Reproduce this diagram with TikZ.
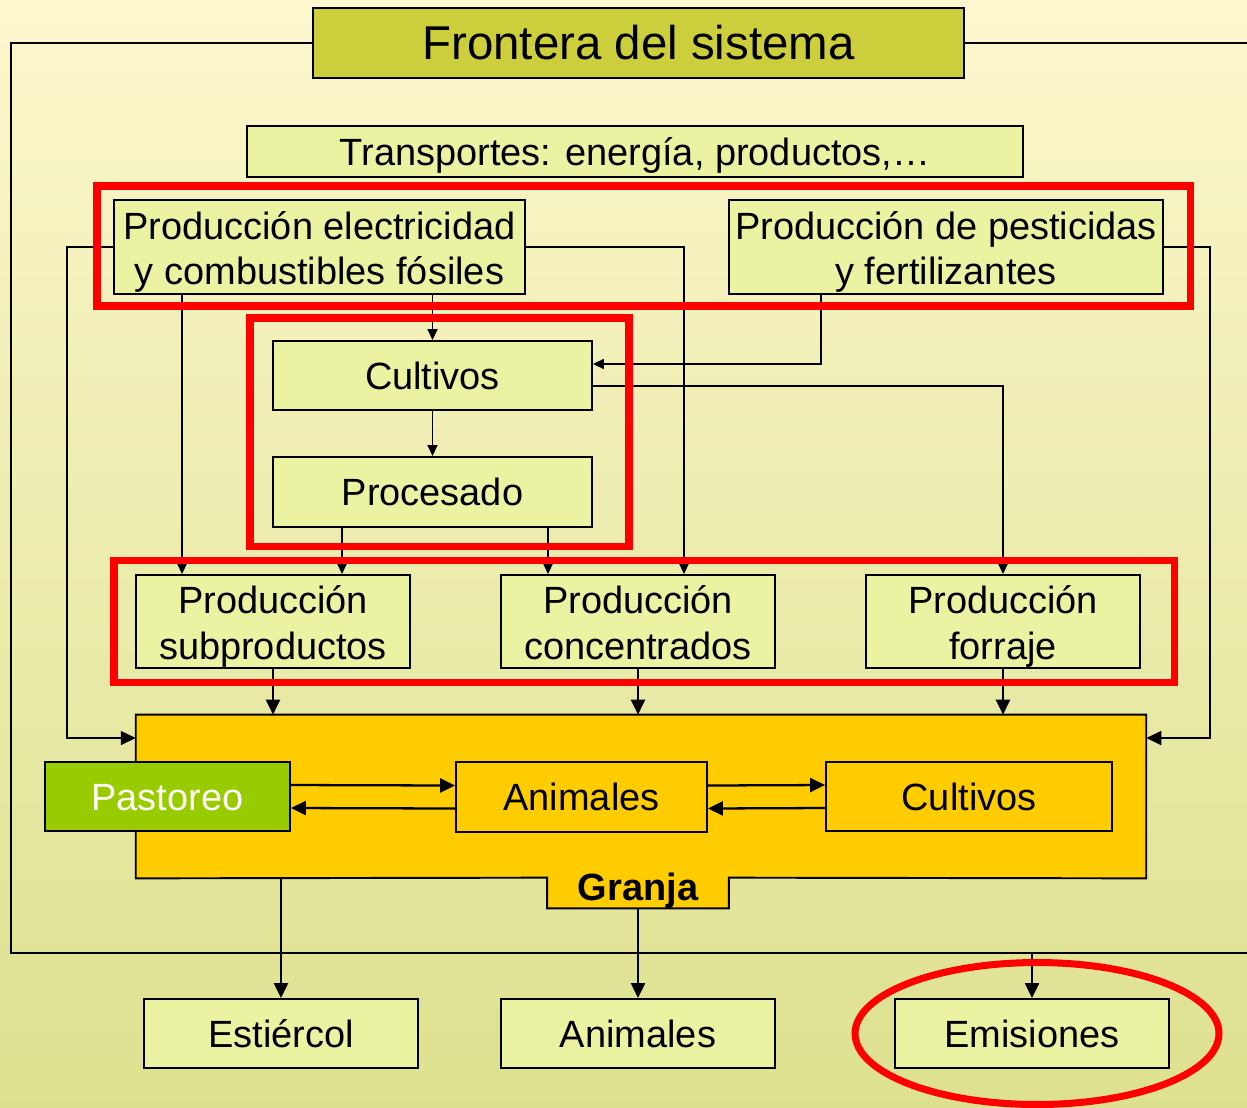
\documentclass[tikz,border=0pt]{standalone}
\usepackage{fontspec}
\setmainfont{Liberation Sans}
\usepackage{tikz}
\usetikzlibrary{arrows.meta}
\usepackage{xcolor}
\definecolor{fondoarriba}{RGB}{252,247,205}
\definecolor{fondoabajo}{RGB}{221,225,143}
\definecolor{verdeclaro}{RGB}{235,242,162}
\definecolor{oliva}{RGB}{204,206,60}
\definecolor{amarillo}{RGB}{255,204,0}
\definecolor{pasto}{RGB}{153,204,0}
\newcommand{\doslineas}[2]{\rule{0pt}{17pt}\smash{#1}\\\smash{#2}}

\begin{document}
\begin{tikzpicture}[x=0.02cm,y=-0.02cm]
		
		\tikzset{box/.style = {shape=rectangle,draw,fill=verdeclaro,line width=1.1pt,inner sep=0pt,align=center,font=\fontsize{21.6}{26}\selectfont}}
		\tikzset{uno/.style = {box,text height=15.5pt,text depth=0pt}}
		\tikzset{flecha/.style = {->,> = {Triangle[length=0.22cm,width=0.2cm]},line width=0.9pt}}
		\tikzset{flechag/.style = {->,> = {Triangle[length=0.3cm,width=0.28cm]},line width=1.3pt}}
		\tikzset{marco/.style = {draw=red,line width=4pt}}
		\shade[top color=fondoarriba,bottom color=fondoabajo] (0,0) rectangle (1247,1107);
		\useasboundingbox (0,0) rectangle (1247,1107);
		%nodes
		\node[uno,fill=oliva,minimum width=13.02cm,minimum height=1.4cm,font=\fontsize{27}{32}\selectfont,text height=19.3pt] (frontera) at (638.5,43) {Frontera del sistema};
		\node[uno,minimum width=15.52cm,minimum height=1.02cm] (transp) at (635,151.5) {Transportes: energía, productos,…};
		\node[box,minimum width=8.22cm,minimum height=1.88cm] (elec) at (319.5,247) {\doslineas{Producción electricidad}{y combustibles fósiles}};
		\node[box,minimum width=8.68cm,minimum height=1.88cm] (pest) at (946,247) {\doslineas{Producción de pesticidas}{y fertilizantes}};
		\node[uno,minimum width=6.38cm,minimum height=1.38cm] (cult) at (432.5,375.5) {Cultivos};
		\node[uno,minimum width=6.38cm,minimum height=1.4cm] (proc) at (432.5,492) {Procesado};
		\node[box,minimum width=5.48cm,minimum height=1.86cm] (subp) at (273,621.5) {\doslineas{Producción}{subproductos}};
		\node[box,minimum width=5.48cm,minimum height=1.86cm] (conc) at (638,621.5) {\doslineas{Producción}{concentrados}};
		\node[box,minimum width=5.48cm,minimum height=1.86cm] (forr) at (1003,621.5) {\doslineas{Producción}{forraje}};
		%granja
		\node[minimum width=20.2cm,minimum height=3.26cm,inner sep=0pt] (granja) at (641,796.5) {};
		\node[minimum width=3.62cm,minimum height=0.6cm,inner sep=0pt] (tab) at (638,893) {};
		\filldraw[fill=amarillo,line width=1.1pt] (granja.north west) -- (granja.north east) -- (granja.south east) -- (tab.north east) -- (tab.south east) -- (tab.south west) -- (tab.north west) -- (granja.south west) -- cycle;
		\node[anchor=base,font=\fontsize{21.6}{26}\selectfont\bfseries] (granjatxt) at (638,900) {Granja};
		\node[uno,fill=pasto,text=white,minimum width=4.9cm,minimum height=1.38cm] (past) at (167.5,796.5) {Pastoreo};
		\node[uno,fill=amarillo,minimum width=5.02cm,minimum height=1.4cm] (anim) at (581.5,797) {Animales};
		\node[uno,fill=amarillo,minimum width=5.72cm,minimum height=1.38cm] (cultg) at (969,796.5) {Cultivos};
		\node[uno,minimum width=5.48cm,minimum height=1.38cm] (estier) at (281,1033.5) {Estiércol};
		\node[uno,minimum width=5.48cm,minimum height=1.38cm] (animsal) at (638,1033.5) {Animales};
		\node[uno,minimum width=5.48cm,minimum height=1.38cm] (emis) at (1032,1033.5) {Emisiones};
		%frontera
		\coordinate (borde) at (11,953);
		\draw[line width=1.1pt] (frontera.west) -| (borde) -- (1247,953);
		\draw[line width=1.1pt] (frontera.east) -- (1247,43);
		%edges
		\coordinate (s1) at ([xshift=-1.82cm]subp.north);
		\coordinate (s2) at ([xshift=1.38cm]subp.north);
		\coordinate (c1) at ([xshift=-1.8cm]conc.north);
		\draw[flechag,line width=0.9pt] (elec.west) -- ++(-46,0) |- ([yshift=1.17cm]granja.west);
		\draw[flecha] (elec.east) -| ([xshift=0.92cm]conc.north);
		\draw[flecha] (cult.north |- elec.south) -- (cult.north);
		\draw[flecha] (elec.south -| s1) -- (s1);
		\draw[flecha] ([xshift=-2.5cm]pest.south) |- ([yshift=0.23cm]cult.east);
		\draw[flechag,line width=0.9pt] (pest.east) -- ++(46,0) |- ([yshift=1.17cm]granja.east);
		\draw[flecha] ([yshift=-0.21cm]cult.east) -| (forr.north);
		\draw[flecha] (cult) -- (proc);
		\draw[flecha] (proc.south -| s2) -- (s2);
		\draw[flecha] (proc.south -| c1) -- (c1);
		\draw[flechag] (subp.south) -- (subp.south |- granja.north);
		\draw[flechag] (conc.south) -- (conc.south |- granja.north);
		\draw[flechag] (forr.south) -- (forr.south |- granja.north);
		\draw[flechag] ([yshift=0.23cm]past.east) -- ([yshift=0.23cm]anim.west);
		\draw[flechag] ([yshift=-0.23cm]anim.west) -- ([yshift=-0.23cm]past.east);
		\draw[flechag] ([yshift=0.23cm]anim.east) -- ([yshift=0.23cm]cultg.west);
		\draw[flechag] ([yshift=-0.23cm]cultg.west) -- ([yshift=-0.23cm]anim.east);
		\draw[flechag] (estier.north |- granja.south) -- (estier.north);
		\draw[flechag] (tab.south) -- (animsal.north);
		\draw[flechag] (emis.north |- borde) -- (emis.north);
		%red frames
		\draw[marco] (97,186) rectangle (1190,306);
		\draw[marco] (250,318) rectangle (629,546);
		\draw[marco] (114,560) rectangle (1174,682);
		\draw[marco] ([xshift=0.1cm]emis.center) ellipse [x radius=3.64cm, y radius=1.42cm];
		\end{tikzpicture}
\end{document}
